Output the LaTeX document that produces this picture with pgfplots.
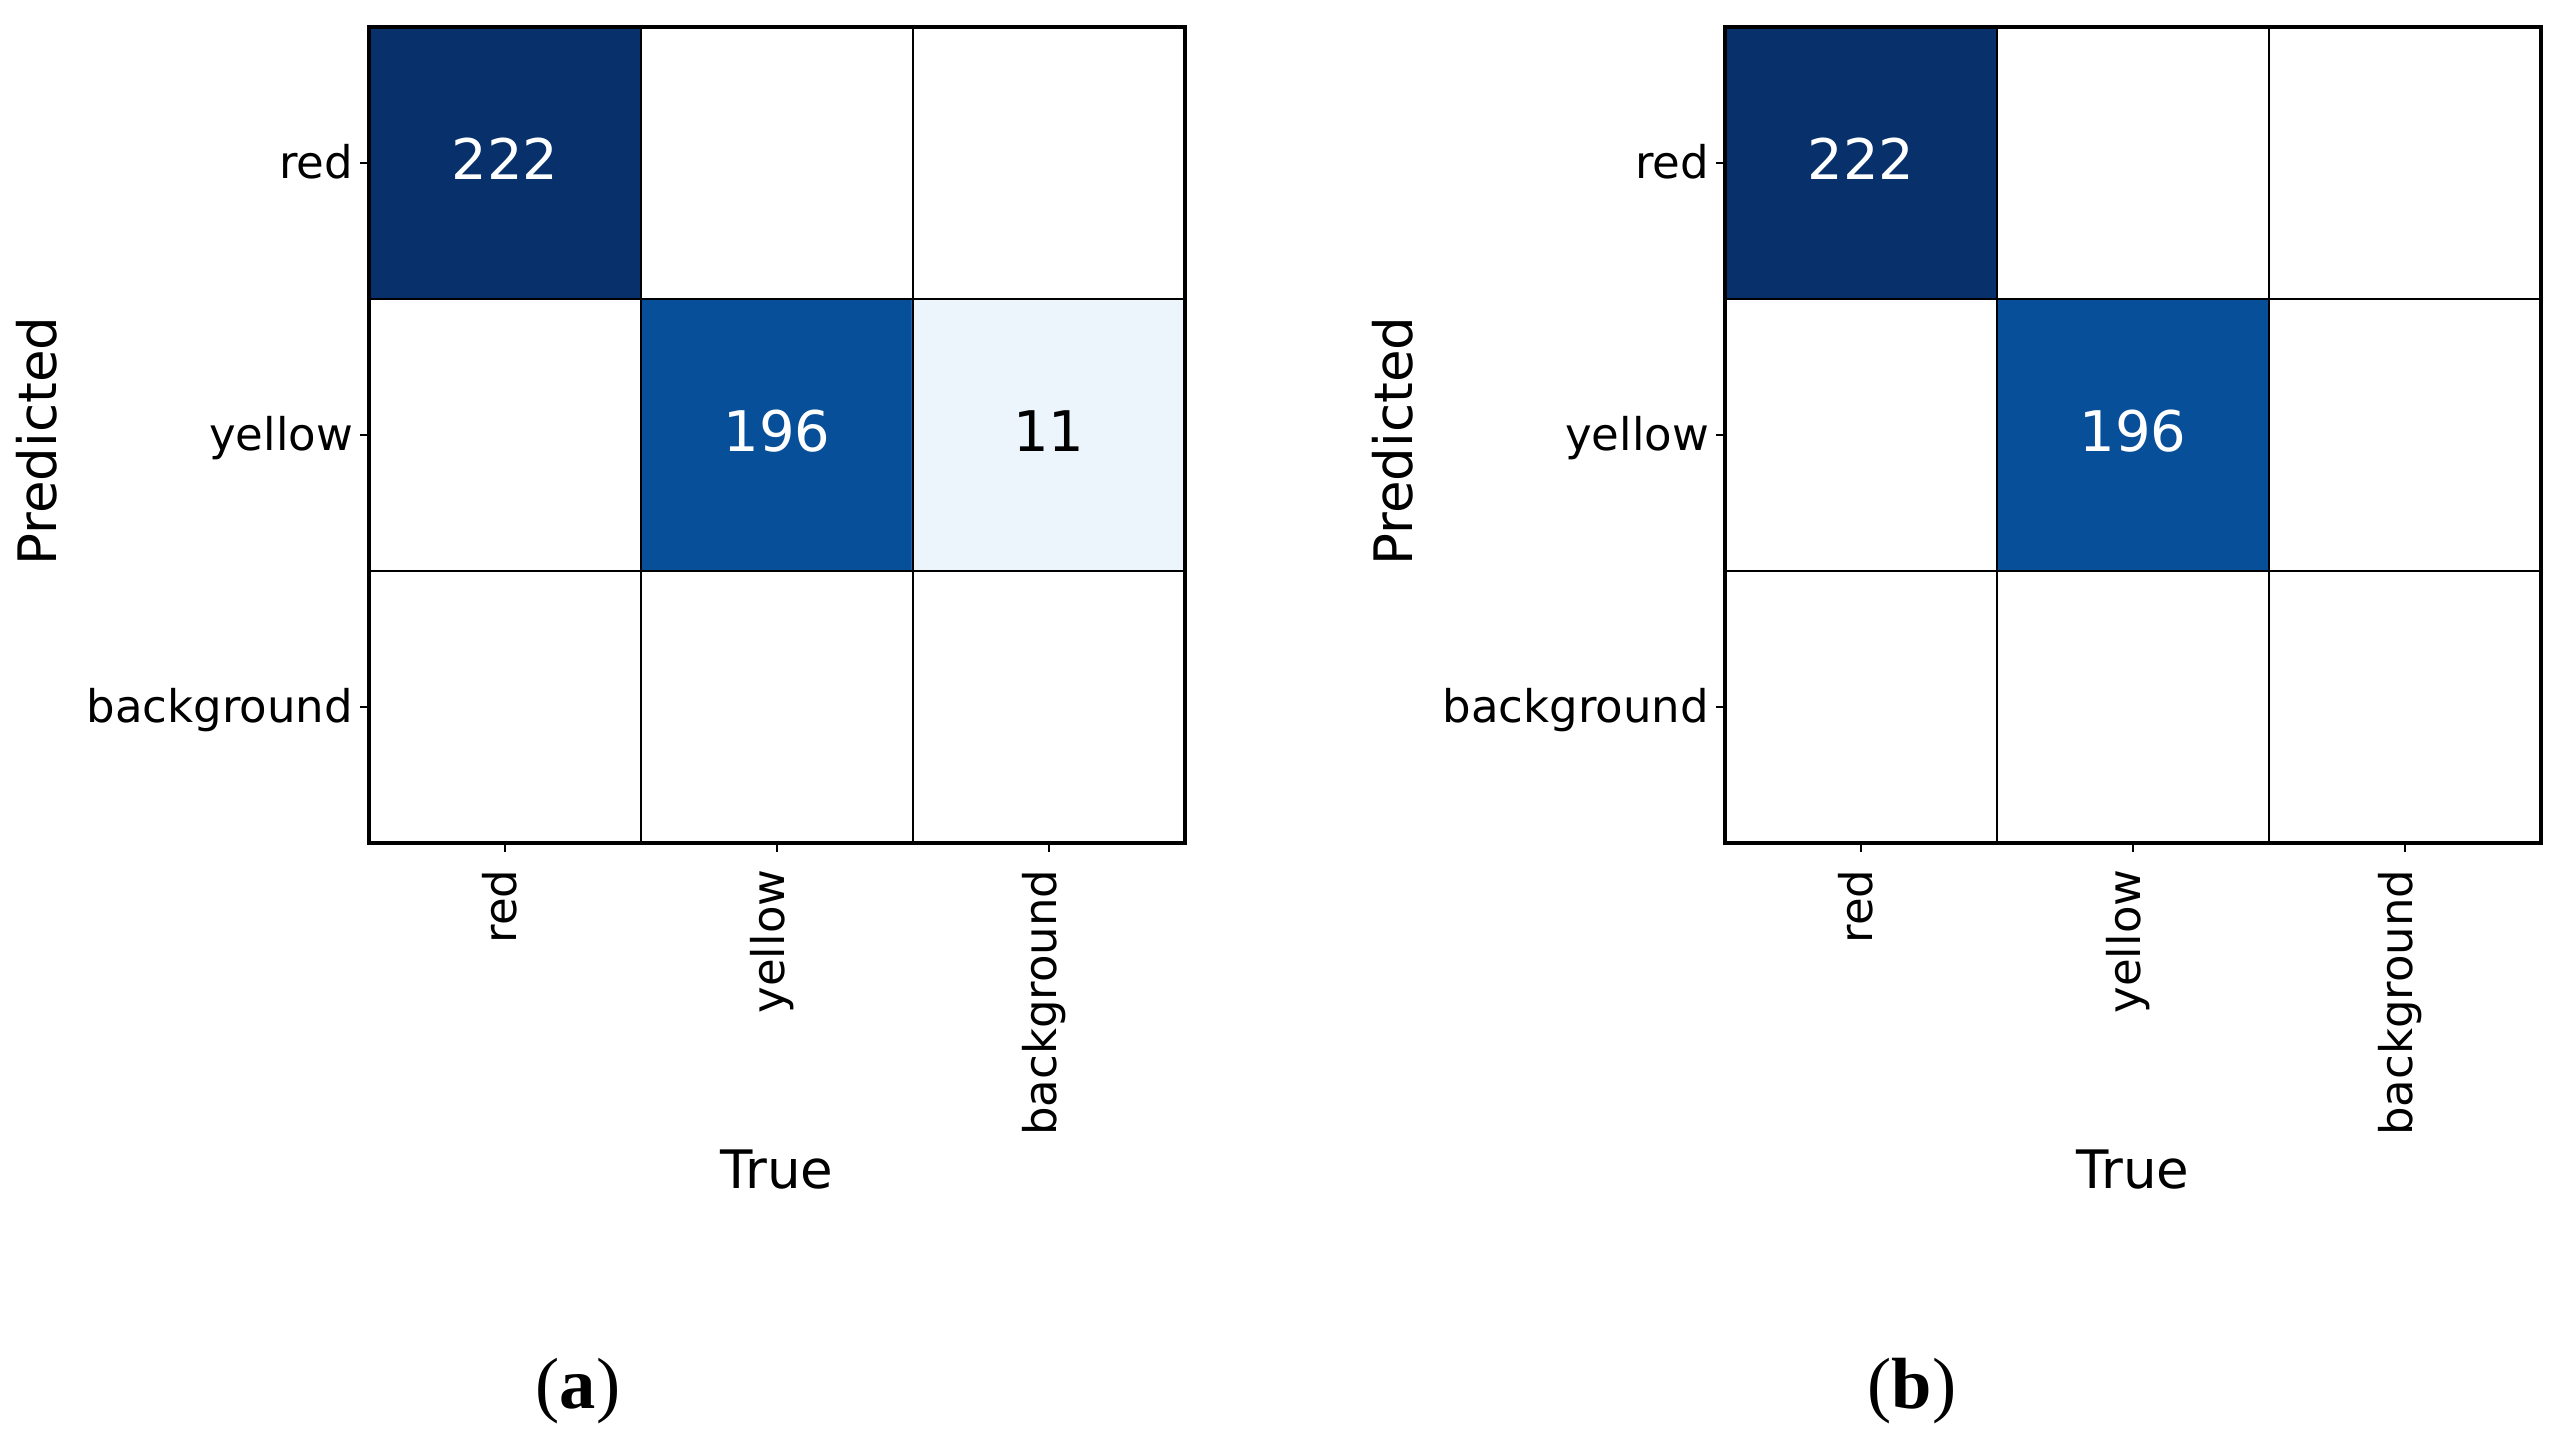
\documentclass[border=0pt]{standalone}
\usepackage{pgfplots}
\usepackage{pgfplotstable}
\pgfplotsset{compat=1.18}
\usepackage{fontspec}
\newfontfamily\dejavu{DejaVu Sans}
\newfontfamily\capfont{Liberation Serif}

\pgfplotstableread{
x y c
0 0 222
1 0 0
2 0 0
0 1 0
1 1 196
2 1 11
0 2 0
1 2 0
2 2 0
}\cmA
\pgfplotstableread{
x y c
0 0 222
1 0 0
2 0 0
0 1 0
1 1 196
2 1 0
0 2 0
1 2 0
2 2 0
}\cmB
\pgfplotstableread{
x y lab
0 0 222
1 1 196
}\whiteLab
\pgfplotstableread{
x y lab
2 1 11
}\blackLab

\pgfplotsset{
  cmstyle/.style={
    scale only axis, width=163.2pt, height=163.2pt,
    anchor=north west,
    xmin=-0.5, xmax=2.5, ymin=-0.5, ymax=2.5, y dir=reverse,
    enlargelimits=false,
    xtick={0,1,2}, ytick={0,1,2},
    xticklabels={red,yellow,background},
    yticklabels={red,yellow,background},
    minor xtick={0.5,1.5}, minor ytick={0.5,1.5},
    xminorgrids, yminorgrids,
    minor grid style={black, line width=0.35pt},
    minor tick length=0pt,
    tick pos=left,
    tick align=outside, major tick length=1.8pt,
    major tick style={black, line width=0.4pt},
    axis line style={line width=0.8pt, black},
    axis on top,
    colormap={blues}{rgb255(0cm)=(255,255,255) rgb255(0.02cm)=(247,251,255) rgb255(1.25cm)=(222,235,247) rgb255(2.5cm)=(198,219,239) rgb255(3.75cm)=(158,202,225) rgb255(5cm)=(107,174,214) rgb255(6.25cm)=(66,146,198) rgb255(7.5cm)=(33,113,181) rgb255(8.75cm)=(8,81,156) rgb255(10cm)=(8,48,107)},
    point meta min=0, point meta max=222,
    ticklabel style={font=\dejavu\fontsize{9}{10}\selectfont},
    xticklabel style={rotate=90, anchor=east, yshift=1pt},
    yticklabel style={anchor=base east, xshift=2.1pt, yshift=-3.1pt},
    label style={font=\dejavu\fontsize{10.6}{12}\selectfont},
    xlabel={True}, ylabel={Predicted},
    xlabel style={at={(axis description cs:0.5,-0.4228)}, anchor=base},
    ylabel style={at={(axis description cs:-0.3824,0.5)}, anchor=base, xshift=-1.2pt},
  },
  annot/.style={only marks, mark=none, nodes near coords,
    point meta=explicit symbolic,
    nodes near coords style={anchor=base, yshift=-3.2pt,
      font=\dejavu\fontsize{11.2}{12}\selectfont, text=#1}},
}

\begin{document}
\begin{tikzpicture}
\path[use as bounding box] (0pt,0pt) rectangle (514.4pt,-289pt);

\begin{axis}[cmstyle, at={(73.8pt,-5.4pt)}]
\addplot[matrix plot*, mesh/cols=3, point meta=explicit] table[meta=c] {\cmA};
\addplot[annot=white] table[meta=lab] {\whiteLab};
\addplot[annot=black] table[meta=lab] {\blackLab};
\end{axis}

\begin{axis}[cmstyle, at={(345pt,-5.4pt)}]
\addplot[matrix plot*, mesh/cols=3, point meta=explicit] table[meta=c] {\cmB};
\addplot[annot=white] table[meta=lab] {\whiteLab};
\end{axis}

\node[anchor=base, font=\capfont\fontsize{14.5}{16}\selectfont] at (115.6pt,-281.6pt) {(\textbf{a})};
\node[anchor=base, font=\capfont\fontsize{14.5}{16}\selectfont] at (382.4pt,-281.6pt) {(\textbf{b})};
\end{tikzpicture}
\end{document}
